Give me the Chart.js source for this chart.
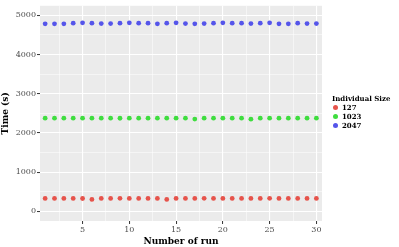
<!DOCTYPE html>
<html>
<head>
<meta charset="utf-8">
<script src="https://cdn.jsdelivr.net/npm/chart.js@4/dist/chart.umd.min.js"></script>
<style>
  body { margin: 0; background: #fff; }
  #wrap { position: relative; width: 399px; height: 247px; }
  #legend { position: absolute; left: 332px; top: 94px; font-family: "DejaVu Serif", serif; font-weight: bold; font-size: 7px; color: #000; }
  #legend .ttl { margin-bottom: 0; }
  #legend .item { height: 9px; line-height: 9px; white-space: nowrap; }
  #legend .dot { display: inline-block; width: 5px; height: 5px; border-radius: 50%; margin: 0 4px 0 1px; vertical-align: 0px; }
</style>
</head>
<body>
<div id="wrap">
  <canvas id="chart" width="399" height="247"></canvas>
  <div id="legend"></div>
</div>
<script>
const runs = Array.from({ length: 30 }, (_, i) => i + 1);
const sizes = ["127", "1023", "2047"];
const colors = ["#E6534B", "#3FDD3F", "#5555EA"];
const time127 = [330, 331, 330, 331, 329, 305, 330, 331, 332, 330, 331, 330, 331, 306, 330, 331, 330, 332, 331, 330, 331, 330, 331, 330, 332, 331, 330, 331, 330, 331];
const time1023 = [2376, 2375, 2376, 2375, 2377, 2376, 2375, 2376, 2374, 2376, 2375, 2376, 2375, 2376, 2375, 2376, 2352, 2376, 2375, 2376, 2375, 2376, 2351, 2376, 2375, 2376, 2375, 2376, 2375, 2376];
const time2047 = [4780, 4780, 4780, 4797, 4805, 4797, 4788, 4788, 4797, 4805, 4797, 4797, 4780, 4797, 4805, 4788, 4780, 4788, 4797, 4805, 4797, 4797, 4788, 4797, 4805, 4780, 4780, 4797, 4788, 4788];
const series = [time127, time1023, time2047];
const xTicks = [2.5, 5, 7.5, 10, 12.5, 15, 17.5, 20, 22.5, 25, 27.5, 30];
const yTicks = [0, 500, 1000, 1500, 2000, 2500, 3000, 3500, 4000, 4500, 5000];

const panelBg = {
  id: "panelBg",
  beforeDraw(chart) {
    const a = chart.chartArea, ctx = chart.ctx;
    ctx.save();
    ctx.fillStyle = "#EBEBEB";
    ctx.fillRect(a.left, a.top, a.right - a.left, a.bottom - a.top);
    ctx.restore();
  }
};

const isMajorX = v => v % 5 === 0;
const isMajorY = v => v % 1000 === 0;

new Chart(document.getElementById("chart").getContext("2d"), {
  type: "scatter",
  data: {
    datasets: sizes.map((s, i) => ({
      label: s,
      data: runs.map((r, j) => ({ x: r, y: series[i][j] })),
      backgroundColor: colors[i],
      borderWidth: 0,
      pointRadius: 2.4
    }))
  },
  options: {
    responsive: false,
    devicePixelRatio: 1,
    animation: false,
    layout: { padding: { top: 5, right: 77, left: 0, bottom: 0 } },
    plugins: { legend: { display: false }, tooltip: { enabled: false } },
    scales: {
      x: {
        type: "linear",
        min: 0.45,
        max: 30.6,
        afterBuildTicks: s => { s.ticks = xTicks.map(v => ({ value: v })); },
        afterFit: s => { s.height = 26; },
        border: { display: false },
        grid: {
          color: c => "#FFFFFF",
          lineWidth: c => isMajorX(c.tick.value) ? 1.1 : 0.5,
          tickLength: 3,
          tickColor: c => isMajorX(c.tick.value) ? "#333333" : "rgba(0,0,0,0)",
          tickWidth: 1
        },
        ticks: {
          autoSkip: false,
          maxRotation: 0,
          padding: 1,
          color: "#4D4D4D",
          font: { family: "DejaVu Serif", size: 8 },
          callback: v => isMajorX(v) ? String(v) : ""
        },
        title: {
          display: true,
          text: "Number of run",
          color: "#000",
          padding: { top: 0, bottom: 0 },
          font: { family: "DejaVu Serif", size: 9, weight: "bold" }
        }
      },
      y: {
        min: -245,
        max: 5240,
        afterBuildTicks: s => { s.ticks = yTicks.map(v => ({ value: v })); },
        afterFit: s => { s.width = 40; },
        border: { display: false },
        grid: {
          color: c => "#FFFFFF",
          lineWidth: c => isMajorY(c.tick.value) ? 1.1 : 0.5,
          tickLength: 3,
          tickColor: c => isMajorY(c.tick.value) ? "#333333" : "rgba(0,0,0,0)",
          tickWidth: 1
        },
        ticks: {
          autoSkip: false,
          padding: 1,
          color: "#4D4D4D",
          font: { family: "DejaVu Serif", size: 8 },
          callback: v => isMajorY(v) ? String(v) : ""
        },
        title: {
          display: true,
          text: "Time (s)",
          color: "#000",
          padding: { top: 0, bottom: 0 },
          font: { family: "DejaVu Serif", size: 9, weight: "bold" }
        }
      }
    }
  },
  plugins: [panelBg]
});

const legend = document.getElementById("legend");
let html = '<div class="ttl">Individual Size</div>';
sizes.forEach((s, i) => {
  html += '<div class="item"><span class="dot" style="background:' + colors[i] + '"></span>' + s + '</div>';
});
legend.innerHTML = html;
</script>
</body>
</html>
